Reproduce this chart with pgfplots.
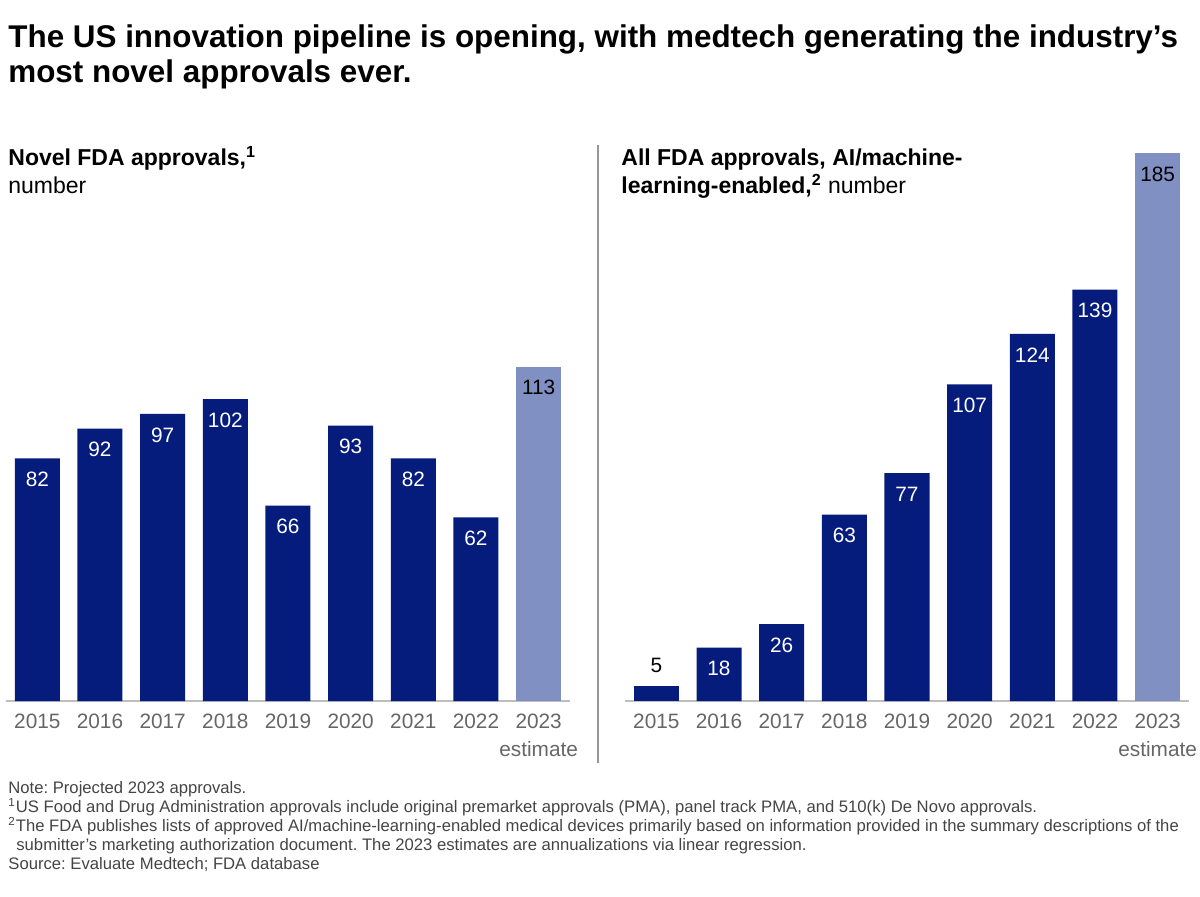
\documentclass[border=0pt]{standalone}
\usepackage{fontspec}
\setmainfont{Liberation Sans}
\usepackage{pgfplots}
\pgfplotsset{compat=1.18}
\frenchspacing
\definecolor{navy}{RGB}{6,28,124}
\definecolor{lightnavy}{RGB}{129,144,194}
\definecolor{tickgray}{RGB}{102,102,102}
\definecolor{axisgray}{RGB}{190,190,190}
\definecolor{notegray}{RGB}{68,68,68}
\pgfplotsset{
  panel/.style={
    scale only axis, width=282pt, height=296pt,
    xmin=-0.5, xmax=8.5, ymin=0, ymax=200,
    axis x line*=bottom, axis y line=none,
    x axis line style={draw=axisgray, line width=0.8pt},
    ytick=\empty,
    xtick={0,...,8},
    xticklabels={2015,2016,2017,2018,2019,2020,2021,2022,{2023\\estimate}},
    major tick length=0pt,
    xticklabel style={font=\fontsize{10.4}{14}\selectfont, text=tickgray, align=center, yshift=-3pt},
    /pgf/number format/assume math mode=true,
    clip=false,
    ybar, bar width=22.5pt,
  },
  inlab/.style={bar shift=0pt, draw=none, nodes near coords,
    nodes near coords style={font=\fontsize{10.4}{12}\selectfont, anchor=center, yshift=-10.5pt}},
}
\begin{document}
\begin{tikzpicture}
\useasboundingbox (0,0) rectangle (600pt,448pt);
% title
\node[anchor=base west, inner sep=0pt, font=\fontsize{15.7}{19.5}\selectfont\bfseries] at (4pt,424pt) {The US innovation pipeline is opening, with medtech generating the industry’s};
\node[anchor=base west, inner sep=0pt, font=\fontsize{15.7}{19.5}\selectfont\bfseries] at (4pt,406.5pt) {most novel approvals ever.};
% subtitles
\node[anchor=base west, inner sep=0pt, font=\fontsize{11.5}{14}\selectfont] at (4pt,365pt) {\textbf{Novel FDA approvals,\textsuperscript{1}}};
\node[anchor=base west, inner sep=0pt, font=\fontsize{11.5}{14}\selectfont] at (4pt,351pt) {number};
\node[anchor=base west, inner sep=0pt, font=\fontsize{11.5}{14}\selectfont] at (310.5pt,365pt) {\textbf{All FDA approvals, AI/machine-}};
\node[anchor=base west, inner sep=0pt, font=\fontsize{11.5}{14}\selectfont] at (310.5pt,351pt) {\textbf{learning-enabled,\textsuperscript{2}} number};
% divider
\draw[color=axisgray!80!black, line width=0.6pt] (299pt,66.5pt) -- (299pt,375.5pt);
% left panel
\begin{axis}[panel, at={(3pt,97.5pt)}, anchor=south west]
\addplot[inlab, fill=navy, nodes near coords style={text=white}] coordinates {(0,82)(1,92)(2,97)(3,102)(4,66)(5,93)(6,82)(7,62)};
\addplot[inlab, fill=lightnavy, nodes near coords style={text=black}] coordinates {(8,113)};
\end{axis}
% right panel
\begin{axis}[panel, at={(312.5pt,97.5pt)}, anchor=south west]
\addplot[inlab, fill=navy, nodes near coords style={text=white}] coordinates {(1,18)(2,26)(3,63)(4,77)(5,107)(6,124)(7,139)};
\addplot[inlab, fill=navy, nodes near coords style={text=black, yshift=21pt}] coordinates {(0,5)};
\addplot[inlab, fill=lightnavy, nodes near coords style={text=black}] coordinates {(8,185)};
\end{axis}
% footnotes
\begin{scope}[every node/.style={anchor=base west, inner sep=0pt, text=notegray, font=\fontsize{8.33}{9.5}\selectfont}]
\node at (4pt,51.5pt) {Note: Projected 2023 approvals.};
\node at (4pt,42pt) {\textsuperscript{1}US Food and Drug Administration approvals include original premarket approvals (PMA), panel track PMA, and 510(k) De Novo approvals.};
\node at (4pt,32.5pt) {\textsuperscript{2}The FDA publishes lists of approved AI/machine-learning-enabled medical devices primarily based on information provided in the summary descriptions of the};
\node at (8pt,23pt) {submitter’s marketing authorization document. The 2023 estimates are annualizations via linear regression.};
\node at (4pt,13.5pt) {Source: Evaluate Medtech; FDA database};
\end{scope}
\end{tikzpicture}
\end{document}
